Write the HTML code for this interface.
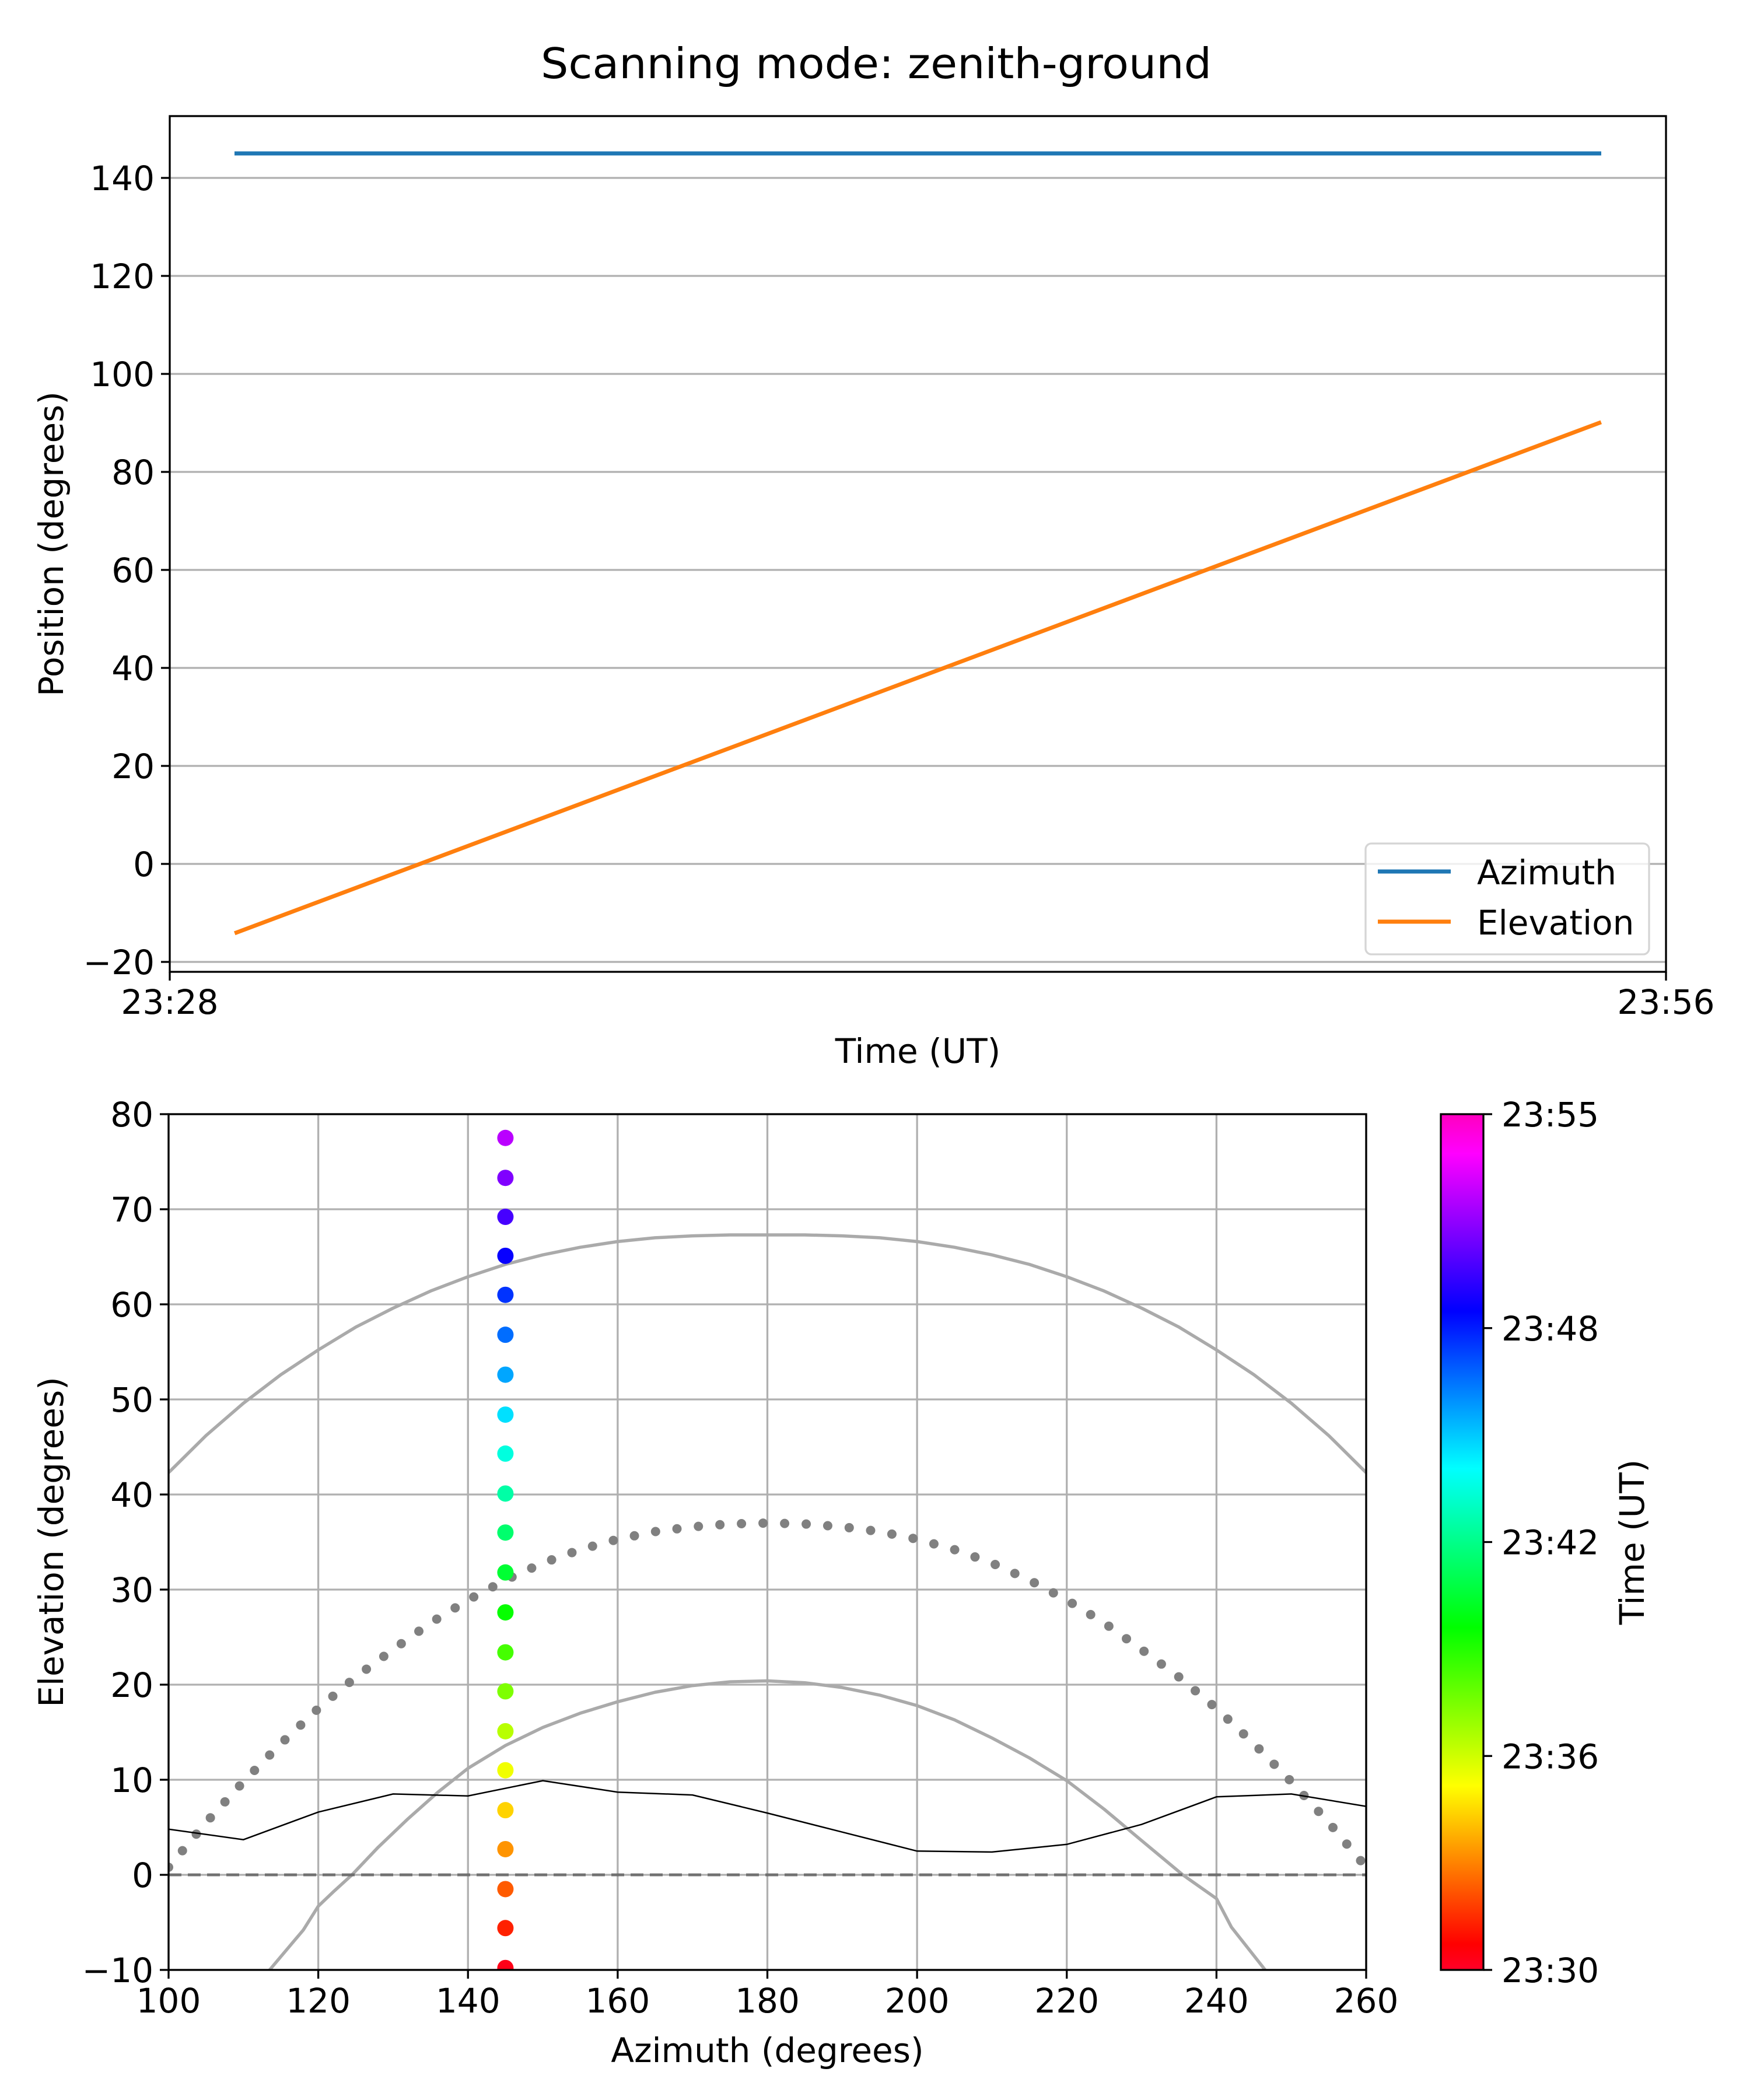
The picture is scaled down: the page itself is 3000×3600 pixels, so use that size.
<!DOCTYPE html>
<html><head><meta charset="utf-8"><style>
html,body{margin:0;padding:0;background:#fff;}
svg{display:block;font-family:"DejaVu Sans","Liberation Sans",sans-serif;}
</style></head><body>
<svg id="fig" width="3000" height="3600" viewBox="0 0 3000 3600" xmlns="http://www.w3.org/2000/svg">
<rect width="3000" height="3600" fill="#fff"/>
<text x="1502" y="134" font-size="72" text-anchor="middle" textLength="1150" lengthAdjust="spacingAndGlyphs">Scanning mode: zenith-ground</text>
<g id="top"></g>
<g id="bot"></g>
</svg>
<script>
// ---- top chart data ----
const topTimeStart = [29.25];      // minutes after 23:00
const topTimeEnd = [54.75];
const azimuthValues = [145, 145];
const elevationValues = [-14, 90];
const topYTicks = [-20, 0, 20, 40, 60, 80, 100, 120, 140];
const topXTicks = [28, 56];
const topXTickLabels = ["23:28", "23:56"];
// ---- bottom chart data ----
const scanAz = [145,145,145,145,145,145,145,145,145,145,145,145,145,145,145,145,145,145,145,145,145,145];
const scanEl = [-9.8,-5.6,-1.5,2.7,6.8,11,15.1,19.3,23.4,27.6,31.8,36,40.1,44.3,48.4,52.6,56.8,61,65.1,69.2,73.3,77.5];
const scanTime = [30.3,31.3,32.3,33.3,34.4,35.4,36.4,37.4,38.4,39.5,40.5,41.5,42.5,43.5,44.6,45.6,46.6,47.6,48.6,49.7,50.7,51.7];
const upperArcAz = [100,105,110,115,120,125,130,135,140,145,150,155,160,165,170,175,180,185,190,195,200,205,210,215,220,225,230,235,240,245,250,255,260];
const upperArcEl = [42.3,46.2,49.6,52.6,55.2,57.6,59.6,61.4,62.9,64.2,65.2,66.0,66.6,67.0,67.2,67.3,67.3,67.3,67.2,67.0,66.6,66.0,65.2,64.2,62.9,61.4,59.6,57.6,55.2,52.6,49.6,46.2,42.3];
const lowerArcAz = [113.5,118,120,122,124.5,128,132,136,140,145,150,155,160,165,170,175,180,185,190,195,200,205,210,215,220,225,230,235.5,240,242,246.5];
const lowerArcEl = [-10,-5.8,-3.3,-1.8,0,2.9,5.9,8.7,11.2,13.6,15.5,17.0,18.2,19.2,19.9,20.3,20.4,20.2,19.7,18.9,17.8,16.3,14.4,12.3,9.9,6.9,3.6,0,-2.5,-5.5,-10];
const dotArcAz = [100,105,110,115,120,125,130,135,140,145,150,155,160,165,170,175,180,185,190,195,200,205,210,215,220,225,230,235,240,245,250,255,260];
const dotArcEl = [0.8,5.5,9.8,13.8,17.5,20.8,23.7,26.5,28.9,31,32.8,34.2,35.3,36.1,36.6,36.9,37,36.9,36.6,36.1,35.3,34.2,32.8,31,28.9,26.5,23.7,20.8,17.5,13.8,9.8,5.5,0.8];
const terrainAz = [100,110,120,130,140,150,160,170,180,190,200,210,220,230,240,250,260];
const terrainEl = [4.8,3.7,6.6,8.5,8.3,9.9,8.7,8.4,6.5,4.5,2.5,2.4,3.2,5.3,8.2,8.5,7.2];
const botXTicks = [100,120,140,160,180,200,220,240,260];
const botYTicks = [-10,0,10,20,30,40,50,60,70,80];
const cbarTicks = [30,36,42,48,54];
const cbarTickLabels = ["23:30","23:36","23:42","23:48","23:55"];
const cbarMin = [30], cbarMax = [54];

const NS = "http://www.w3.org/2000/svg";
function mk(parent, tag, attrs, text){
  const e = document.createElementNS(NS, tag);
  for (const k in attrs) e.setAttribute(k, attrs[k]);
  if (text !== undefined) e.textContent = text;
  parent.appendChild(e);
  return e;
}
// gist_rainbow
const gr = [[0,[255,0,41]],[0.03,[255,0,0]],[0.215,[255,255,0]],[0.4,[0,255,0]],[0.586,[0,255,255]],[0.77,[0,0,255]],[0.954,[255,0,255]],[1,[255,0,191]]];
function cmap(f){
  f=Math.max(0,Math.min(1,f));
  for(let i=0;i<gr.length-1;i++){
    const [a,ca]=gr[i],[b,cb]=gr[i+1];
    if(f<=b){const t=(f-a)/(b-a);return `rgb(${ca.map((v,j)=>Math.round(v+(cb[j]-v)*t)).join(',')})`;}
  }
  return 'rgb(255,0,191)';
}

// ===== TOP =====
const T = document.getElementById('top');
const tL=291,tR=2856,tT=199,tB=1666;
const tx = m => tL + (m-28)/(56-28)*(tR-tL);
const ty = v => 1481 - v*(1481-1649)/(-20);
for (let i=0;i<topYTicks.length;i++){
  const v=topYTicks[i], y=ty(v);
  const g=mk(T,'line',{x1:tL,x2:tR,y1:y,y2:y,stroke:'#b0b0b0','stroke-width':3.3});
  
  
  const tk=mk(T,'line',{x1:tL-15,x2:tL,y1:y,y2:y,stroke:'#000','stroke-width':3.3});
  
  
  const lb=mk(T,'text',{x:tL-26,y:y+21,'font-size':58,'text-anchor':'end'},v<0?'\u2212'+Math.abs(v):String(v));
  
  
}
for (let i=0;i<topXTicks.length;i++){
  const x=tx(topXTicks[i]);
  const tk=mk(T,'line',{x1:x,x2:x,y1:tB,y2:tB+15,stroke:'#000','stroke-width':3.3});
  
  
  const lb=mk(T,'text',{x:x,y:1738,'font-size':58,'text-anchor':'middle'},topXTickLabels[i]);
  
  
}
const az=mk(T,'line',{x1:tx(topTimeStart[0]),x2:tx(topTimeEnd[0]),y1:ty(azimuthValues[0]),y2:ty(azimuthValues[1]),stroke:'#1f77b4','stroke-width':7,'stroke-linecap':'square'});


const el=mk(T,'line',{x1:tx(topTimeStart[0]),x2:tx(topTimeEnd[0]),y1:ty(elevationValues[0]),y2:ty(elevationValues[1]),stroke:'#ff7f0e','stroke-width':7,'stroke-linecap':'square'});


const tf=mk(T,'rect',{x:tL,y:tT,width:tR-tL,height:tB-tT,fill:'none',stroke:'#000','stroke-width':3.3});


// legend
const lg=mk(T,'g',{});


mk(lg,'rect',{x:2341,y:1446,width:486,height:190,rx:10,fill:'rgba(255,255,255,0.8)',stroke:'#d5d5d5','stroke-width':3.3});
const le1=mk(lg,'line',{x1:2362,x2:2487,y1:1494,y2:1494,stroke:'#1f77b4','stroke-width':7});


const lt1=mk(lg,'text',{x:2532,y:1516,'font-size':58},'Azimuth');


const le2=mk(lg,'line',{x1:2362,x2:2487,y1:1580,y2:1580,stroke:'#ff7f0e','stroke-width':7});


const lt2=mk(lg,'text',{x:2532,y:1602,'font-size':58},'Elevation');


const ylt=mk(T,'text',{x:0,y:0,'font-size':58,'text-anchor':'middle',transform:`translate(108,${(tT+tB)/2}) rotate(-90)`},'Position (degrees)');


const xlt=mk(T,'text',{x:(tL+tR)/2,y:1822,'font-size':58,'text-anchor':'middle'},'Time (UT)');



// ===== BOTTOM =====
const B=document.getElementById('bot');
const bL=289,bR=2342,bT=1910,bB=3377;
const bx=a=>bL+(a-100)/160*(bR-bL);
const by=v=>3214-v*16.3;
const clip=mk(B,'clipPath',{id:'bclip'});
mk(clip,'rect',{x:bL,y:bT,width:bR-bL,height:bB-bT});
for(const v of botYTicks){
  const y=by(v);
  const g=mk(B,'line',{x1:bL,x2:bR,y1:y,y2:y,stroke:'#b0b0b0','stroke-width':3.3});
  
  
  const tk=mk(B,'line',{x1:bL-15,x2:bL,y1:y,y2:y,stroke:'#000','stroke-width':3.3});
  
  
  const lb=mk(B,'text',{x:bL-26,y:y+21,'font-size':58,'text-anchor':'end'},v<0?'\u2212'+Math.abs(v):String(v));
  
  
}
for(const a of botXTicks){
  const x=bx(a);
  const g=mk(B,'line',{x1:x,x2:x,y1:bT,y2:bB,stroke:'#b0b0b0','stroke-width':3.3});
  
  
  const tk=mk(B,'line',{x1:x,x2:x,y1:bB,y2:bB+15,stroke:'#000','stroke-width':3.3});
  
  
  const lb=mk(B,'text',{x:x,y:3450,'font-size':58,'text-anchor':'middle'},String(a));
  
  
}
const pts=(A,E)=>A.map((a,i)=>bx(a).toFixed(1)+','+by(E[i]).toFixed(1)).join(' ');
const cg=mk(B,'g',{'clip-path':'url(#bclip)'});
const ua=mk(cg,'polyline',{points:pts(upperArcAz,upperArcEl),fill:'none',stroke:'#aaaaaa','stroke-width':5.5,'stroke-linejoin':'round'});


const la=mk(cg,'polyline',{points:pts(lowerArcAz,lowerArcEl),fill:'none',stroke:'#aaaaaa','stroke-width':5.5,'stroke-linejoin':'round'});


const da=mk(cg,'polyline',{points:pts(dotArcAz,dotArcEl),fill:'none',stroke:'#808080','stroke-width':16,'stroke-linecap':'round','stroke-dasharray':'0 37'});


const tr=mk(cg,'polyline',{points:pts(terrainAz,terrainEl),fill:'none',stroke:'#000','stroke-width':2.5});


const zl=mk(cg,'line',{x1:bL,x2:bR,y1:by(0),y2:by(0),stroke:'rgba(90,90,90,0.75)','stroke-width':5,'stroke-dasharray':'22 11'});


for(let i=0;i<scanAz.length;i++){
  const c=mk(cg,'circle',{cx:bx(scanAz[i]),cy:by(scanEl[i]),r:14,fill:cmap((scanTime[i]-cbarMin[0])/(cbarMax[0]-cbarMin[0]))});
  
  
}
const bf=mk(B,'rect',{x:bL,y:bT,width:bR-bL,height:bB-bT,fill:'none',stroke:'#000','stroke-width':3.3});


const ylb=mk(B,'text',{x:0,y:0,'font-size':58,'text-anchor':'middle',transform:`translate(108,${(bT+bB)/2}) rotate(-90)`},'Elevation (degrees)');


const xlb=mk(B,'text',{x:(bL+bR)/2,y:3535,'font-size':58,'text-anchor':'middle'},'Azimuth (degrees)');


// colorbar
const cL=2470,cW=73;
const defs=mk(B,'defs',{});
const grd=mk(defs,'linearGradient',{id:'cbg',x1:0,y1:1,x2:0,y2:0});
for(const [o,c] of gr) mk(grd,'stop',{offset:o,'stop-color':`rgb(${c.join(',')})`});
const cb=mk(B,'rect',{x:cL,y:bT,width:cW,height:bB-bT,fill:'url(#cbg)',stroke:'#000','stroke-width':3.3});


const cy=t=>bB-(t-cbarMin[0])/(cbarMax[0]-cbarMin[0])*(bB-bT);
for(let i=0;i<cbarTicks.length;i++){
  const y=cy(cbarTicks[i]);
  const tk=mk(B,'line',{x1:cL+cW,x2:cL+cW+15,y1:y,y2:y,stroke:'#000','stroke-width':3.3});
  
  
  const lb=mk(B,'text',{x:2574,y:y+21,'font-size':58},cbarTickLabels[i]);
  
  
}
const cbl=mk(B,'text',{x:0,y:0,'font-size':58,'text-anchor':'middle',transform:`translate(2818,${(bT+bB)/2}) rotate(-90)`},'Time (UT)');


</script>
</body></html>
